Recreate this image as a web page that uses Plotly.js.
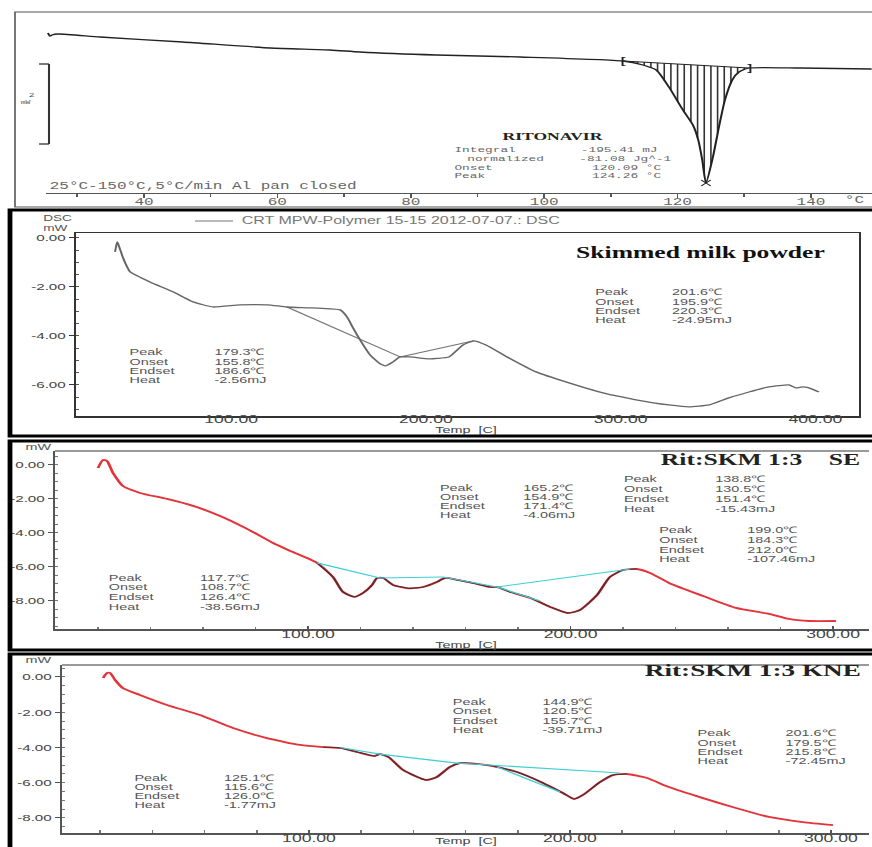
<!DOCTYPE html>
<html>
<head>
<meta charset="utf-8">
<script src="https://cdn.plot.ly/plotly-3.0.1.min.js"></script>
<style>
  html, body { margin: 0; padding: 0; background: #fff; overflow: hidden; }
  /* the instrument printouts use a wide type face; draw narrow, then widen */
  #chart { width: 545px; height: 847px; transform: scaleX(1.6); transform-origin: 0 0; }
</style>
</head>
<body>
<div id="chart"></div>
<script>
// ---------- Ritonavir: 25–150 °C, 5 °C/min, Al pan closed ----------
const ritT = [25.6, 25.9, 26.2, 27.1, 33.4, 45.8, 58.9, 67.9, 72.4, 83.8, 96.4, 111.8, 114.8, 116.8,
              118.7, 120.8, 122.3, 123.1, 123.7, 124.26, 125.3, 126.2, 127.1, 128.2, 129.2, 130.7, 138.4, 149.1];
const ritQ = [0, -0.075, -0.05, -0.025, -0.1, -0.225, -0.375, -0.425, -0.475, -0.55, -0.6, -0.7, -0.8, -0.925,
              -1.35, -1.925, -2.3, -2.675, -3.175, -3.75, -3.1, -2.35, -1.675, -1.175, -0.975, -0.875, -0.875, -0.9];
const ritLimits = [111.8, 130.7];        // integration limits, °C
const ritScaleBar = [-0.775, 2];         // top of bar, span in mW
const ritLabels = ['Integral', 'normalized', 'Onset', 'Peak'];
const ritValues = ['-195.41 mJ', '-81.08 Jg^-1', '120.09 °C', '124.26 °C'];
const ritXTicks = [40, 60, 80, 100, 120, 140];

// ---------- Skimmed milk powder ----------
const smpT = [40.45, 41.5, 42.0, 44.6, 46.6, 48.2, 58.4, 70.2, 80.5, 90.8, 104.6, 118.5, 128.7, 142.1, 156.0,
              159.5, 162.6, 166.2, 171.4, 176.5, 179.3, 183.2, 186.8, 191.9, 201.6, 206.0, 211.9, 219.1, 224.7,
              230.9, 242.7, 256.6, 273.5, 291.0, 307.9, 324.8, 335.1, 345.4, 355.6, 365.9, 376.2, 386.4, 390.0,
              393.6, 396.7, 401.8];
const smpQ = [-0.57, -0.16, -0.24, -0.82, -1.18, -1.39, -1.80, -2.20, -2.61, -2.82, -2.73, -2.73, -2.82, -2.86, -2.94,
              -3.22, -3.67, -4.16, -4.78, -5.14, -5.22, -5.06, -4.86, -4.86, -4.94, -4.92, -4.86, -4.37, -4.20,
              -4.37, -4.90, -5.47, -5.92, -6.33, -6.61, -6.82, -6.90, -6.82, -6.53, -6.29, -6.08, -6.00, -6.12,
              -6.08, -6.12, -6.29];
const smpBase1T = [128.7, 186.8], smpBase1Q = [-2.82, -4.86];
const smpBase2T = [186.8, 224.7], smpBase2Q = [-4.86, -4.20];
const smpStatsRight = ['201.6℃', '195.9℃', '220.3℃', '-24.95mJ'];
const smpStatsLeft  = ['179.3℃', '155.8℃', '186.6℃', '-2.56mJ'];
const smpYTicks = [0, -2, -4, -6];
const smpXTicks = [100, 200, 300, 400];

// ---------- Rit:SKM 1:3 SE ----------
const seT = [20.0, 21.9, 23.4, 25.7, 29.5, 36.0, 46.3, 56.2, 66.5, 76.8, 86.7, 93.1, 103.4, 109.5, 113.3, 117.7,
             121.0, 124.4, 126.3, 128.6, 132.4, 138.8, 143.8, 149.1, 152.2, 156.8, 164.4, 169.3, 172.0, 177.0,
             184.6, 192.2, 199.0, 203.6, 210.1, 215.0, 220.0, 225.3, 230.3, 237.5, 250.5, 263.0, 275.6, 283.2,
             290.9, 301.1];
const seQ = [-0.18, 0.29, 0.24, -0.47, -1.24, -1.65, -2.0, -2.41, -3.0, -3.76, -4.59, -5.05, -5.76, -6.59, -7.47, -7.76,
             -7.53, -7.06, -6.65, -6.65, -7.06, -7.26, -7.18, -6.88, -6.65, -6.76, -7.0, -7.18, -7.18, -7.47,
             -7.82, -8.35, -8.71, -8.53, -7.65, -6.59, -6.18, -6.12, -6.35, -6.94, -7.71, -8.41, -8.76, -9.06,
             -9.18, -9.18];
const seBaseT = [[103.4, 127.4], [127.4, 151.4], [151.4, 172.0], [172.0, 222.7], [172.0, 188.4]];
const seBaseQ = [[-5.76, -6.65], [-6.65, -6.59], [-6.59, -7.18], [-7.18, -6.12], [-7.18, -8.0]];
const seStatsA = ['165.2℃', '154.9℃', '171.4℃', '-4.06mJ'];
const seStatsB = ['138.8℃', '130.5℃', '151.4℃', '-15.43mJ'];
const seStatsC = ['199.0℃', '184.3℃', '212.0℃', '-107.46mJ'];
const seStatsD = ['117.7℃', '108.7℃', '126.4℃', '-38.56mJ'];

// ---------- Rit:SKM 1:3 KNE ----------
const kneT = [21.1, 22.6, 23.8, 25.7, 28.7, 35.2, 45.6, 58.2, 70.9, 83.9, 96.6, 105.4, 111.9, 118.4, 125.1, 127.2,
              130.5, 136.0, 144.9, 149.0, 154.0, 157.9, 164.4, 170.5, 179.7, 189.7, 197.3, 201.6, 205.0, 211.5,
              216.5, 221.8, 229.5, 237.9, 251.0, 263.6, 276.2, 289.3, 300.8];
const kneQ = [-0.06, 0.23, 0.23, -0.17, -0.63, -1.02, -1.59, -2.16, -2.90, -3.47, -3.86, -3.98, -4.03, -4.26, -4.49, -4.38,
              -4.55, -5.28, -5.85, -5.68, -5.11, -4.89, -4.94, -5.06, -5.40, -6.02, -6.59, -6.93, -6.70, -5.97,
              -5.57, -5.51, -5.74, -6.25, -6.88, -7.44, -7.95, -8.24, -8.41];
const kneBaseT = [[111.9, 127.2], [127.2, 156.7], [156.7, 219.2], [172.0, 196.2]];
const kneBaseQ = [[-4.0, -4.38], [-4.38, -4.89], [-4.89, -5.45], [-5.1, -6.53]];
const kneStatsA = ['144.9℃', '120.5℃', '155.7℃', '-39.71mJ'];
const kneStatsB = ['201.6℃', '179.5℃', '215.8℃', '-72.45mJ'];
const kneStatsC = ['125.1℃', '115.6℃', '126.0℃', '-1.77mJ'];

const statNames = ['Peak', 'Onset', 'Endset', 'Heat'];
const mixYTicks = [0, -2, -4, -6, -8];
const mixXTicks = [100, 200, 300];

// ---------- page geometry (final pixels) ----------
const W = 872, H = 847;
const fx = p => p / W;
const fy = p => 1 - p / H;

const SANS = 'Liberation Sans, Arial, sans-serif';
const SERIF = 'Liberation Serif, Times New Roman, serif';
const MONO = 'Liberation Mono, Courier New, monospace';
const RED = '#e3343a', CYAN = '#3ccfd6', DARK = '#2a2a2a';

function interp(xs, ys, x) {
  for (let i = 1; i < xs.length; i++) {
    if (x <= xs[i]) {
      const t = (x - xs[i - 1]) / (xs[i] - xs[i - 1]);
      return ys[i - 1] + t * (ys[i] - ys[i - 1]);
    }
  }
  return ys[ys.length - 1];
}
function segment(xs, ys, lo, hi) {
  const x = [], y = [];
  xs.forEach((v, i) => { if (v >= lo && v <= hi) { x.push(v); y.push(ys[i]); } });
  return { x, y };
}

const traces = [];

// Ritonavir trace, baseline and hatching of the integrated area
const ritBaseQ = [interp(ritT, ritQ, ritLimits[0]), interp(ritT, ritQ, ritLimits[1])];
const hatchX = [], hatchY = [];
for (let t = Math.ceil(ritLimits[0]); t <= ritLimits[1]; t += 1) {
  const b = ritBaseQ[0] + (t - ritLimits[0]) / (ritLimits[1] - ritLimits[0]) * (ritBaseQ[1] - ritBaseQ[0]);
  hatchX.push(t, t, null);
  hatchY.push(b, interp(ritT, ritQ, t), null);
}
traces.push({ x: hatchX, y: hatchY, xaxis: 'x', yaxis: 'y', mode: 'lines',
  line: { color: '#333', width: 1 }, hoverinfo: 'skip' });
traces.push({ x: ritLimits, y: ritBaseQ, xaxis: 'x', yaxis: 'y', mode: 'lines',
  line: { color: '#222', width: 1 } });
traces.push({ x: ritT, y: ritQ, xaxis: 'x', yaxis: 'y', mode: 'lines',
  line: { color: '#222', width: 1.3, shape: 'spline', smoothing: 0.6 } });
const ritPeakIdx = ritQ.indexOf(Math.min(...ritQ));
traces.push({ x: [ritT[ritPeakIdx]], y: [ritQ[ritPeakIdx]], xaxis: 'x', yaxis: 'y', mode: 'markers',
  marker: { symbol: 'x-thin', size: 6, line: { color: '#222', width: 1 } } });

// Skimmed milk powder
traces.push({ x: smpBase1T, y: smpBase1Q, xaxis: 'x2', yaxis: 'y2', mode: 'lines', line: { color: '#777', width: 1 } });
traces.push({ x: smpBase2T, y: smpBase2Q, xaxis: 'x2', yaxis: 'y2', mode: 'lines', line: { color: '#777', width: 1 } });
traces.push({ x: smpT, y: smpQ, xaxis: 'x2', yaxis: 'y2', mode: 'lines',
  line: { color: '#666', width: 1.3, shape: 'spline', smoothing: 0.5 } });

// Rit:SKM 1:3 SE
traces.push({ x: seT, y: seQ, xaxis: 'x3', yaxis: 'y3', mode: 'lines',
  line: { color: RED, width: 1.8, shape: 'spline', smoothing: 0.6 } });
const seDark = segment(seT, seQ, 103, 226);
traces.push({ x: seDark.x, y: seDark.y, xaxis: 'x3', yaxis: 'y3', mode: 'lines', opacity: 0.8,
  line: { color: DARK, width: 1.1, shape: 'spline', smoothing: 0.6 } });
seBaseT.forEach((bt, i) => traces.push({ x: bt, y: seBaseQ[i], xaxis: 'x3', yaxis: 'y3', mode: 'lines',
  line: { color: CYAN, width: 1.1 } }));

// Rit:SKM 1:3 KNE
traces.push({ x: kneT, y: kneQ, xaxis: 'x4', yaxis: 'y4', mode: 'lines',
  line: { color: RED, width: 1.8, shape: 'spline', smoothing: 0.6 } });
const kneDark = segment(kneT, kneQ, 105, 224);
traces.push({ x: kneDark.x, y: kneDark.y, xaxis: 'x4', yaxis: 'y4', mode: 'lines', opacity: 0.8,
  line: { color: DARK, width: 1.1, shape: 'spline', smoothing: 0.6 } });
kneBaseT.forEach((bt, i) => traces.push({ x: bt, y: kneBaseQ[i], xaxis: 'x4', yaxis: 'y4', mode: 'lines',
  line: { color: CYAN, width: 1.1 } }));

// ---------- annotations ----------
const ann = [];
function txt(text, px, py, font, extra) {
  ann.push(Object.assign({ xref: 'paper', yref: 'paper', x: fx(px), y: fy(py), text, showarrow: false,
    xanchor: 'left', yanchor: 'middle', borderpad: 0, font }, extra || {}));
}
const statFont = { family: SANS, size: 9, color: '#555' };
function statBlock(values, lx, vx, rows) {
  statNames.forEach((n, i) => {
    txt(n, lx, rows[i], statFont);
    txt(values[i], vx, rows[i], statFont);
  });
}

// Ritonavir texts
const monoFont = { family: MONO, size: 8, color: '#666' };
txt('RITONAVIR', 553, 136, { family: SERIF, size: 11, color: '#222', weight: 'bold' }, { xanchor: 'center' });
const ritLabelX = [453, 466, 453, 453], ritValueX = [579, 578, 591, 591], ritRowY = [149.5, 158.5, 167, 175.5];
ritLabels.forEach((l, i) => {
  txt(l, ritLabelX[i], ritRowY[i], monoFont);
  txt(ritValues[i], ritValueX[i], ritRowY[i], monoFont);
});
txt('25°C-150°C,5°C/min Al pan closed', 48, 187, { family: MONO, size: 10, color: '#666' });
txt('°C', 843, 200, { family: MONO, size: 10, color: '#666' });
txt('2', 32, 95, { family: MONO, size: 6, color: '#555' }, { xanchor: 'center' });
txt('mW', 25, 103, { family: MONO, size: 5, color: '#555' }, { xanchor: 'center' });
ann.push({ xref: 'x', yref: 'y', x: ritLimits[0], y: ritBaseQ[0], text: '[', showarrow: false,
  xanchor: 'center', yanchor: 'middle', font: { family: SANS, size: 9, color: '#222', weight: 'bold' } });
ann.push({ xref: 'x', yref: 'y', x: ritLimits[1], y: ritBaseQ[1], text: ']', showarrow: false,
  xanchor: 'center', yanchor: 'middle', font: { family: SANS, size: 9, color: '#222', weight: 'bold' } });

// Skimmed milk powder texts
txt('DSC', 57, 218, { family: SANS, size: 8.5, color: '#555' }, { xanchor: 'center' });
txt('mW', 55, 228, { family: SANS, size: 8.5, color: '#555' }, { xanchor: 'center' });
txt('CRT MPW-Polymer 15-15 2012-07-07.: DSC', 240, 221, { family: SANS, size: 10, color: '#777' });
txt('Skimmed milk powder', 700, 253, { family: SERIF, size: 16, color: '#111', weight: 'bold' }, { xanchor: 'center' });
statBlock(smpStatsRight, 594, 671, [292, 301.5, 311, 320]);
statBlock(smpStatsLeft, 128, 212, [352, 361.5, 371, 380]);
txt('Temp\u00a0\u00a0[C]', 467, 430, { family: SANS, size: 9, color: '#444' }, { xanchor: 'center' });

// SE texts
txt('Rit:SKM 1:3', 803, 459, { family: SERIF, size: 16, color: '#222', weight: 'bold' }, { xanchor: 'right' });
txt('SE', 863, 459, { family: SERIF, size: 16, color: '#222', weight: 'bold' }, { xanchor: 'right' });
statBlock(seStatsA, 439, 521, [488, 497, 506, 515]);
statBlock(seStatsB, 623, 713, [479, 489, 499, 509]);
statBlock(seStatsC, 658, 746, [530, 540, 550, 559]);
statBlock(seStatsD, 107, 198, [578, 587, 597, 607]);
txt('mW', 24, 447, { family: SANS, size: 9, color: '#555' });
txt('Temp\u00a0\u00a0[C]', 466, 645, { family: SANS, size: 9, color: '#444' }, { xanchor: 'center' });

// KNE texts
txt('Rit:SKM 1:3 KNE', 863, 670, { family: SERIF, size: 17, color: '#222', weight: 'bold' }, { xanchor: 'right' });
statBlock(kneStatsA, 451, 541, [702, 711, 721, 730]);
statBlock(kneStatsB, 696, 784, [733, 743, 752, 761]);
statBlock(kneStatsC, 132, 222, [778, 787, 796, 805]);
txt('mW', 24, 660, { family: SANS, size: 9, color: '#555' });
txt('Temp\u00a0\u00a0[C]', 466, 841, { family: SANS, size: 9, color: '#444' }, { xanchor: 'center' });

// ---------- shapes: panel frames, scale bar ----------
const shapes = [];
function rect(x0, y0, x1, y1, color, width) {
  shapes.push({ type: 'rect', xref: 'paper', yref: 'paper', x0: fx(x0), x1: fx(x1), y0: fy(y1), y1: fy(y0),
    line: { color, width }, fillcolor: 'rgba(0,0,0,0)', layer: 'above' });
}
function hline(x0, x1, py, color, width) {
  shapes.push({ type: 'line', xref: 'paper', yref: 'paper', x0: fx(x0), x1: fx(x1), y0: fy(py), y1: fy(py),
    line: { color, width }, layer: 'above' });
}
rect(15, 12, 890, 207, '#555', 1);
rect(10, 210, 890, 436, '#000', 3);
rect(10, 441, 890, 650, '#000', 3);
rect(10, 654, 890, 870, '#000', 3);
hline(55, 869, 451, '#999', 2);
hline(62, 869, 665, '#999', 2);
hline(195, 233, 221, '#777', 1);
// 2 mW scale bar, in data units of the Ritonavir axis
const sbTop = ritScaleBar[0], sbBot = ritScaleBar[0] - ritScaleBar[1];
shapes.push({ type: 'line', xref: 'paper', yref: 'y', x0: fx(49), x1: fx(49), y0: sbTop, y1: sbBot, line: { color: '#333', width: 1.3 } });
shapes.push({ type: 'line', xref: 'paper', yref: 'y', x0: fx(39), x1: fx(49), y0: sbTop, y1: sbTop, line: { color: '#333', width: 1.3 } });
shapes.push({ type: 'line', xref: 'paper', yref: 'y', x0: fx(39), x1: fx(49), y0: sbBot, y1: sbBot, line: { color: '#333', width: 1.3 } });

// ---------- axes ----------
const fmt = v => v.toFixed(2);
const tickFontX = { family: SANS, size: 11, color: '#444' };
const tickFontY = { family: SANS, size: 9.5, color: '#444' };

const layout = {
  width: 545, height: 847,
  margin: { l: 0, r: 0, t: 0, b: 0 },
  paper_bgcolor: '#fff', plot_bgcolor: 'rgba(0,0,0,0)',
  showlegend: false,
  annotations: ann,
  shapes: shapes,

  xaxis: { domain: [fx(46), 1], range: [25.31, 149.15], anchor: 'y', automargin: false,
    showgrid: false, zeroline: false, showline: true, linecolor: '#555', linewidth: 1,
    tickmode: 'array', tickvals: ritXTicks, ticks: 'outside', ticklen: 4, tickcolor: '#555',
    minor: { dtick: 10, ticks: 'outside', ticklen: 3, tickcolor: '#555' },
    ticklabelstandoff: -5, tickfont: { family: MONO, size: 10, color: '#666' } },
  yaxis: { domain: [fy(193), fy(12)], range: [-4.0, 0.525], anchor: 'x', visible: false,
    showgrid: false, zeroline: false, automargin: false },

  xaxis2: { domain: [fx(76), fx(859)], range: [20.4, 422.4], anchor: 'y2', automargin: false,
    showgrid: false, zeroline: false, showline: true, mirror: true, linecolor: '#333', linewidth: 1.5,
    tickmode: 'array', tickvals: smpXTicks, ticktext: smpXTicks.map(fmt), ticks: '',
    ticklabelstandoff: -8, tickfont: tickFontX },
  yaxis2: { domain: [fy(416), fy(233)], range: [-7.27, 0.2], anchor: 'x2', automargin: false,
    showgrid: false, zeroline: false, showline: true, mirror: true, linecolor: '#333', linewidth: 1.5,
    tickmode: 'array', tickvals: smpYTicks, ticktext: smpYTicks.map(fmt),
    ticks: 'outside', ticklen: 3, tickcolor: '#333',
    minor: { dtick: 0.5, ticks: 'inside', ticklen: 2, tickcolor: '#555' }, tickfont: tickFontY },

  xaxis3: { domain: [fx(55), fx(869)], range: [3.62, 313.7], anchor: 'y3', automargin: false,
    showgrid: false, zeroline: false, showline: true, linecolor: '#555', linewidth: 1.5,
    tickmode: 'array', tickvals: mixXTicks, ticktext: mixXTicks.map(fmt), ticks: 'inside', ticklen: 3, tickcolor: '#555',
    minor: { dtick: 20, ticks: 'inside', ticklen: 2, tickcolor: '#777' },
    ticklabelstandoff: -6, tickfont: tickFontX },
  yaxis3: { domain: [fy(629), fy(451)], range: [-9.65, 0.82], anchor: 'x3', automargin: false,
    showgrid: false, zeroline: false, showline: true, linecolor: '#555', linewidth: 1.5,
    tickmode: 'array', tickvals: mixYTicks, ticktext: mixYTicks.map(fmt),
    ticks: 'outside', ticklen: 3, tickcolor: '#555',
    minor: { dtick: 0.5, ticks: 'inside', ticklen: 2, tickcolor: '#777' }, tickfont: tickFontY },

  xaxis4: { domain: [fx(62), fx(869)], range: [5.36, 314.6], anchor: 'y4', automargin: false,
    showgrid: false, zeroline: false, showline: true, linecolor: '#555', linewidth: 1.5,
    tickmode: 'array', tickvals: mixXTicks, ticktext: mixXTicks.map(fmt), ticks: 'inside', ticklen: 3, tickcolor: '#555',
    minor: { dtick: 20, ticks: 'inside', ticklen: 3, tickcolor: '#777' },
    ticklabelstandoff: -6, tickfont: tickFontX },
  yaxis4: { domain: [fy(833), fy(665)], range: [-8.86, 0.68], anchor: 'x4', automargin: false,
    showgrid: false, zeroline: false, showline: true, linecolor: '#555', linewidth: 1.5,
    tickmode: 'array', tickvals: mixYTicks, ticktext: mixYTicks.map(fmt),
    ticks: 'outside', ticklen: 3, tickcolor: '#555',
    minor: { dtick: 0.5, ticks: 'inside', ticklen: 2, tickcolor: '#777' }, tickfont: tickFontY }
};

Plotly.newPlot('chart', traces, layout, { staticPlot: true, displayModeBar: false });
</script>
</body>
</html>
